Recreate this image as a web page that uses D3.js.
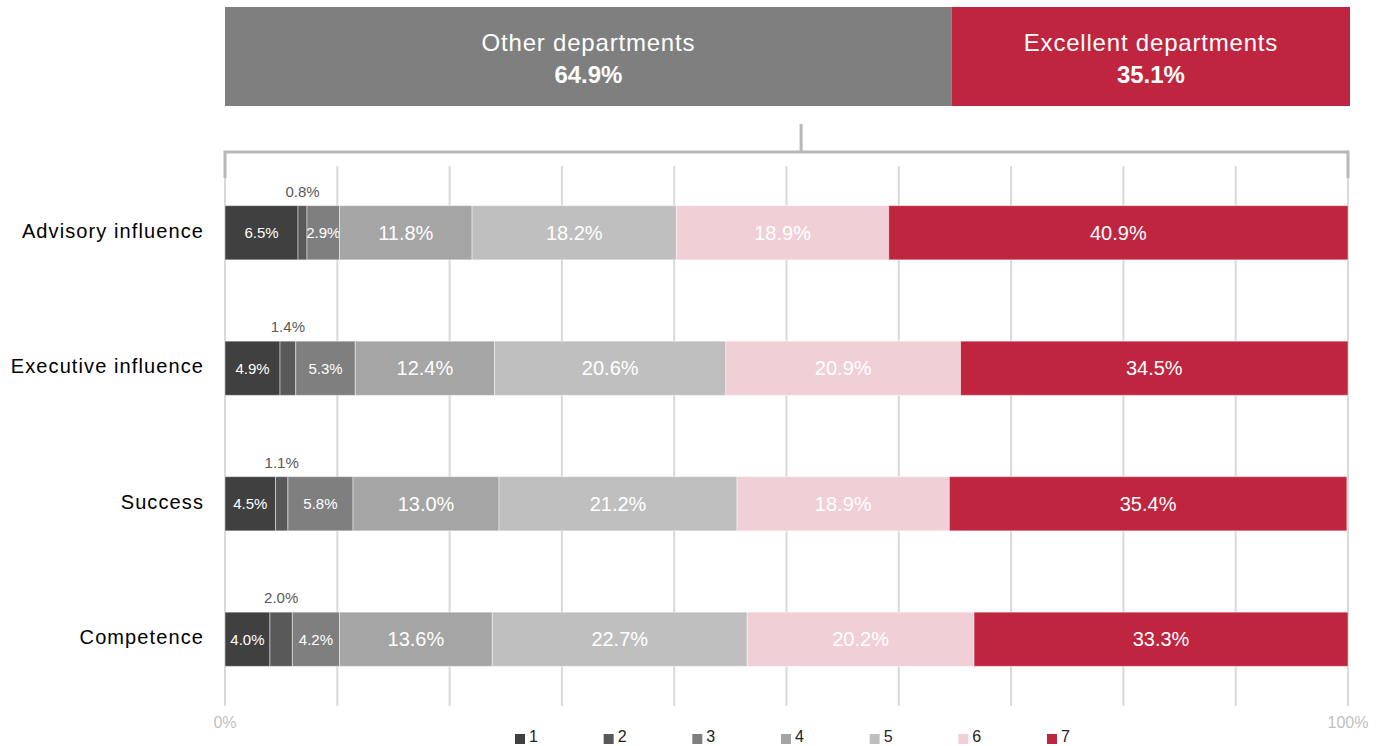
<!DOCTYPE html>
<html>
<head>
<meta charset="utf-8">
<script src="https://cdn.jsdelivr.net/npm/d3@7"></script>
<style>
  html, body { margin: 0; padding: 0; background: #fff; }
  svg { display: block; font-family: "Liberation Sans", Arial, sans-serif; }
</style>
</head>
<body>
<svg id="chart" width="1377" height="746"></svg>
<script>
// Rating distribution per dimension (share of responses, %)
const categories = ["Advisory influence", "Executive influence", "Success", "Competence"];
const ratings = ["1", "2", "3", "4", "5", "6", "7"];
const r1 = [6.5, 4.9, 4.5, 4.0];
const r2 = [0.8, 1.4, 1.1, 2.0];
const r3 = [2.9, 5.3, 5.8, 4.2];
const r4 = [11.8, 12.4, 13.0, 13.6];
const r5 = [18.2, 20.6, 21.2, 22.7];
const r6 = [18.9, 20.9, 18.9, 20.2];
const r7 = [40.9, 34.5, 35.4, 33.3];
const seriesValues = [r1, r2, r3, r4, r5, r6, r7];

// Split of departments shown in the header bar
const groups = ["Other departments", "Excellent departments"];
const groupShares = [64.9, 35.1];

const xTicks = [0, 100];
const xTickLabels = ["0%", "100%"];

const colors = ["#404040", "#595959", "#7f7f7f", "#a5a5a5", "#bfbfbf", "#f0cfd7", "#c0253f"];
const groupColors = ["#7f7f7f", "#c0253f"];

const svg = d3.select("#chart");
const left = 225, right = 1348;

const x = d3.scaleLinear().domain([0, 100]).range([left, right]);
const y = d3.scaleBand().domain(categories).range([165, 707]).paddingInner(0.6).paddingOuter(0.3);

// Gridlines every 10%
const grid = svg.append("g");
grid.selectAll("line").data(d3.range(0, 101, 10)).join("line")
  .attr("x1", d => x(d)).attr("x2", d => x(d))
  .attr("y1", 166).attr("y2", 706)
  .attr("stroke", "#d9d9d9").attr("stroke-width", 2);

// Header bar: department split
const hx = d3.scaleLinear().domain([0, 100]).range([left, 1345]);
const groupStarts = d3.cumsum([0].concat(groupShares)).slice(0, groupShares.length);
const header = svg.append("g");
groups.forEach((g, i) => {
  const x0 = hx(groupStarts[i]);
  const x1 = i === groups.length - 1 ? 1350 : hx(groupStarts[i] + groupShares[i]);
  header.append("rect").attr("x", x0).attr("y", 7).attr("width", x1 - x0).attr("height", 99)
    .attr("fill", groupColors[i]);
  header.append("text").attr("x", (x0 + x1) / 2).attr("y", 51).attr("text-anchor", "middle")
    .attr("fill", "#fff").attr("font-size", 24).attr("letter-spacing", 0.8).text(g);
  header.append("text").attr("x", (x0 + x1) / 2).attr("y", 83).attr("text-anchor", "middle")
    .attr("fill", "#fff").attr("font-size", 24).attr("font-weight", "bold")
    .text(groupShares[i].toFixed(1) + "%");
});

// Bracket linking the header to the detail bars
const bracketMid = 51.3;
const bracket = svg.append("g").attr("stroke", "#b7b7b7").attr("stroke-width", 3).attr("fill", "none");
bracket.append("path").attr("d", `M${x(0)},178 V152 H${x(100)} V178`);
bracket.append("line").attr("x1", x(bracketMid)).attr("x2", x(bracketMid))
  .attr("y1", 124).attr("y2", 152);

// Stacked bars
const table = categories.map((c, i) => {
  const row = { category: c };
  ratings.forEach((r, j) => { row[r] = seriesValues[j][i]; });
  return row;
});
const stacked = d3.stack().keys(ratings)(table);

const bars = svg.append("g");
stacked.forEach((layer, j) => {
  const g = bars.append("g");
  g.selectAll("rect").data(layer).join("rect")
    .attr("x", d => x(d[0]))
    .attr("y", d => y(d.data.category))
    .attr("width", d => x(d[1]) - x(d[0]))
    .attr("height", y.bandwidth())
    .attr("fill", colors[j])
    .attr("stroke", "rgba(255,255,255,0.45)").attr("stroke-width", 1);

  g.selectAll("text").data(layer).join("text")
    .attr("x", d => (x(d[0]) + x(d[1])) / 2)
    .attr("y", d => j === 1 ? y(d.data.category) - 14 : y(d.data.category) + y.bandwidth() / 2)
    .attr("dy", "0.35em")
    .attr("text-anchor", "middle")
    .attr("fill", j === 1 ? "#595959" : "#fff")
    .attr("font-size", j < 3 ? 15 : 20)
    .text((d, i) => seriesValues[j][i].toFixed(1) + "%");
});

// Category labels
svg.append("g").selectAll("text").data(categories).join("text")
  .attr("x", 204).attr("y", d => y(d) + y.bandwidth() / 2 - 2).attr("dy", "0.35em")
  .attr("text-anchor", "end").attr("font-size", 20).attr("letter-spacing", 1.1)
  .attr("fill", "#000").text(d => d);

// Axis labels
svg.append("g").selectAll("text").data(xTicks).join("text")
  .attr("x", d => x(d)).attr("y", 728).attr("text-anchor", "middle")
  .attr("font-size", 16).attr("fill", "#bfbfbf").text((d, i) => xTickLabels[i]);

// Legend
const legend = svg.append("g");
const lx = d3.scalePoint().domain(ratings).range([515, 1047]);
ratings.forEach((r, j) => {
  legend.append("rect").attr("x", lx(r)).attr("y", 734).attr("width", 10).attr("height", 10).attr("fill", colors[j]);
  legend.append("text").attr("x", lx(r) + 14).attr("y", 742).attr("font-size", 16).attr("fill", "#222").text(r);
});
</script>
</body>
</html>
